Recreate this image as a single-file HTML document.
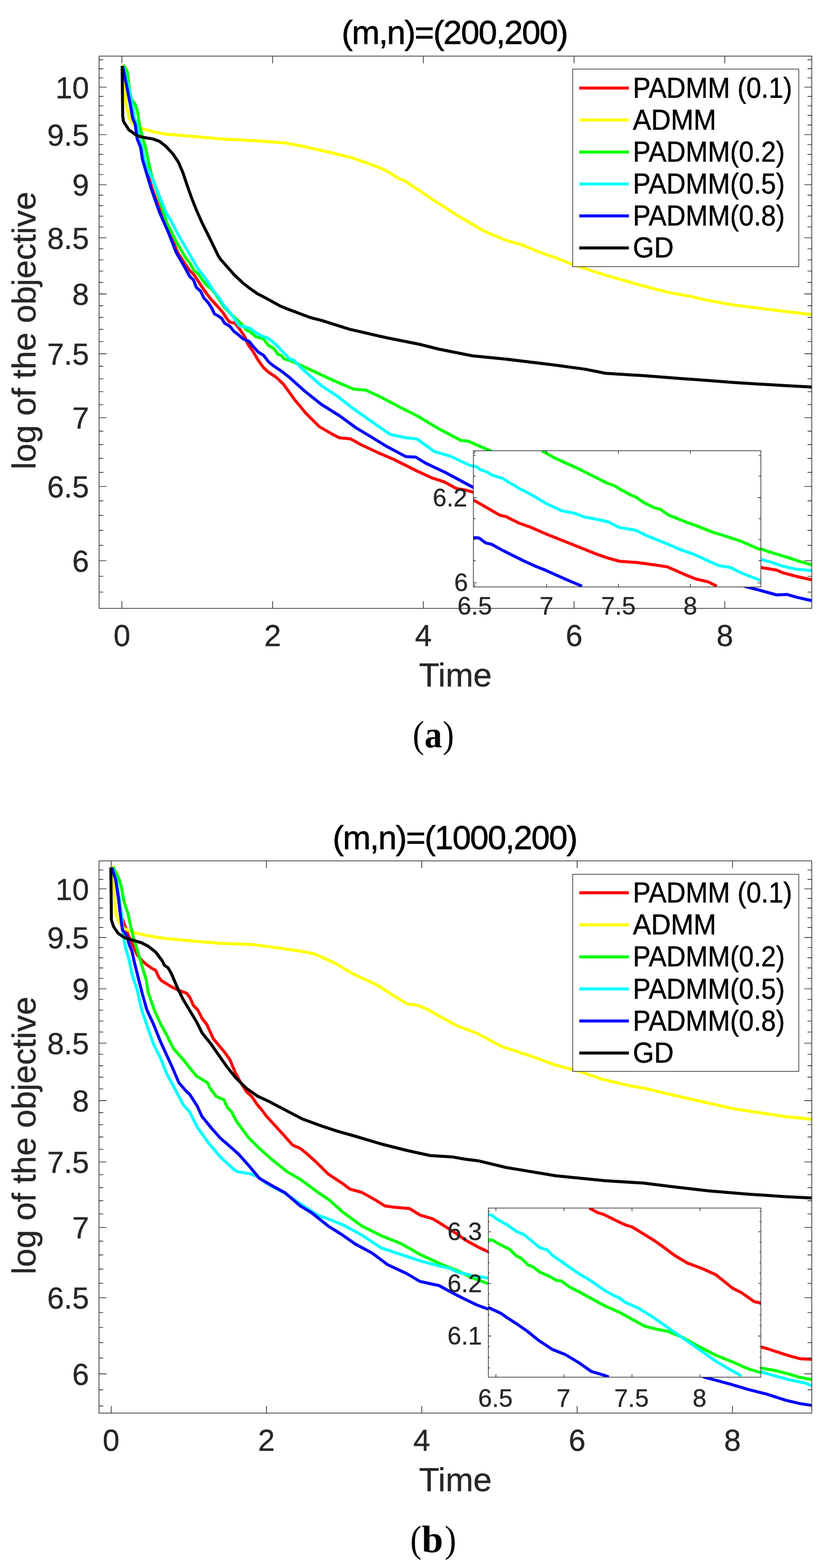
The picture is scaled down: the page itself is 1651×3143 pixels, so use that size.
<!DOCTYPE html><html><head><meta charset="utf-8"><title>Figure</title><style>html,body{margin:0;padding:0;background:#fff}svg{display:block}</style></head><body>
<svg width="1651" height="3143" viewBox="0 0 1651 3143">
<rect width="1651" height="3143" fill="#fff"/>
<clipPath id="ca"><rect x="198.5" y="112.5" width="1428.0" height="1107.0"/></clipPath>
<g clip-path="url(#ca)" fill="none" stroke-width="6.0" stroke-linejoin="round" stroke-linecap="butt">
<path d="M245.8 132.8 L255.0 178.7 L261.7 212.0 L266.0 237.0 L271.0 249.0 L275.5 278.7 L282.0 295.3 L288.0 320.0 L304.0 375.4 L322.0 426.4 L340.0 466.3 L356.0 506.3 L370.0 528.0 L380.0 542.2 L388.9 551.0 L397.7 564.3 L409.3 582.1 L422.6 599.8 L435.0 613.1 L446.5 626.4 L455.4 640.0 L460.7 645.9 L471.0 647.9 L481.4 661.4 L489.7 673.8 L496.9 690.4 L507.3 704.9 L517.6 722.4 L528.0 736.9 L538.3 746.2 L553.8 756.6 L568.5 770.7 L590.7 801.7 L612.9 828.3 L639.5 855.0 L666.1 870.5 L680.0 877.5 L702.2 879.7 L724.3 891.9 L757.6 907.4 L790.9 921.8 L835.2 944.0 L864.0 957.3 L890.6 966.2 L915.0 979.5 L935.0 982.8 L950.0 987.0 L1300.0 1100.0 L1524.7 1137.5 L1556.1 1142.8 L1568.5 1148.1 L1595.1 1155.2 L1626.5 1162.3" stroke="#ff0000"/>
<path d="M246.7 129.5 L249.2 175.3 L253.3 212.0 L259.2 238.7 L268.3 250.3 L281.7 257.0 L305.0 263.7 L330.0 268.7 L380.0 272.8 L440.0 278.3 L506.7 281.7 L573.3 286.7 L606.7 293.3 L673.3 308.3 L706.7 316.7 L753.3 333.3 L773.3 341.7 L800.0 358.3 L810.0 361.7 L840.0 381.7 L866.7 400.0 L880.0 408.3 L913.3 430.0 L970.0 463.3 L1013.3 481.7 L1043.3 490.0 L1080.0 505.0 L1113.3 516.7 L1146.7 530.0 L1213.3 551.7 L1285.0 572.2 L1341.7 586.9 L1380.5 593.4 L1419.3 602.4 L1471.1 611.5 L1522.8 618.0 L1574.5 624.4 L1626.3 630.4" stroke="#ffff00"/>
<path d="M247.5 130.3 L255.0 143.7 L259.2 178.7 L263.3 198.7 L270.8 208.7 L275.8 225.3 L280.0 253.7 L285.0 273.7 L291.7 295.3 L298.3 328.7 L304.3 353.3 L317.6 393.2 L333.2 444.2 L353.1 484.1 L370.9 515.1 L381.3 528.9 L388.9 542.2 L397.7 549.3 L406.6 562.6 L413.7 571.4 L421.7 577.6 L431.4 589.2 L438.5 599.8 L449.2 615.8 L453.5 620.0 L461.0 628.0 L469.0 635.5 L483.5 649.0 L493.8 661.4 L502.1 665.5 L512.4 674.8 L528.0 679.0 L533.1 686.2 L538.3 692.4 L548.7 698.6 L556.9 710.0 L564.2 713.1 L569.3 719.3 L580.0 722.4 L595.1 728.6 L632.8 746.3 L666.1 761.8 L680.0 767.7 L708.8 779.9 L733.2 782.1 L762.0 795.4 L799.7 815.4 L835.2 833.1 L879.6 859.7 L923.9 883.0 L937.2 884.1 L984.0 904.3 L1200.0 1000.0 L1524.7 1100.2 L1541.9 1106.4 L1577.4 1117.1 L1604.0 1125.9 L1626.5 1132.2" stroke="#00ff00"/>
<path d="M247.0 132.0 L252.0 155.0 L258.5 178.7 L265.2 212.0 L269.3 237.0 L274.3 248.7 L278.5 278.7 L285.2 295.3 L289.0 320.0 L295.0 338.0 L303.0 353.0 L316.0 385.0 L325.5 408.0 L333.1 426.9 L346.4 449.5 L355.7 468.2 L375.3 501.8 L396.0 537.7 L406.6 551.0 L417.3 566.1 L427.0 582.1 L437.6 595.4 L449.2 613.1 L455.5 620.0 L463.8 630.3 L471.0 640.7 L479.3 653.1 L491.7 655.2 L502.1 658.3 L512.4 666.6 L524.9 673.8 L535.2 676.9 L546.6 685.2 L556.9 694.5 L564.2 702.8 L574.5 713.1 L580.0 719.3 L588.5 721.9 L610.6 744.1 L643.9 772.9 L677.2 795.1 L708.8 819.8 L746.5 846.4 L782.0 870.8 L813.0 877.5 L835.2 879.7 L870.7 905.2 L901.7 914.1 L941.6 932.9 L950.0 935.0 L1300.0 1060.0 L1524.7 1121.5 L1541.9 1125.9 L1568.5 1134.8 L1595.1 1141.0 L1626.5 1143.7" stroke="#00ffff"/>
<path d="M245.8 132.8 L255.0 178.7 L261.7 212.0 L265.8 237.0 L270.8 248.7 L275.0 278.7 L281.7 295.3 L285.5 320.0 L302.1 375.4 L319.9 426.4 L337.6 466.3 L353.1 506.3 L368.6 532.9 L380.0 553.7 L388.0 561.7 L393.3 575.9 L402.2 583.9 L408.4 597.2 L417.3 606.9 L424.3 617.6 L429.7 629.1 L437.6 633.5 L443.9 638.0 L450.3 647.9 L460.7 654.1 L469.0 664.5 L476.2 669.7 L486.6 679.0 L499.0 684.2 L507.3 694.5 L517.6 705.9 L528.0 712.1 L538.3 725.5 L548.7 733.8 L564.2 744.2 L580.0 756.6 L610.6 784.0 L643.9 810.6 L680.0 833.1 L713.3 857.5 L746.5 877.5 L775.3 895.2 L813.0 915.2 L833.0 916.3 L853.0 928.5 L890.6 946.2 L923.9 964.0 L950.0 978.0 L1300.0 1108.0 L1499.3 1177.4 L1520.6 1182.7 L1556.1 1192.5 L1577.4 1191.6 L1595.1 1196.9 L1626.5 1204.0" stroke="#0000ff"/>
<path d="M244.7 132.0 L245.8 232.0 L247.5 243.7 L258.3 260.3 L270.0 268.7 L273.3 271.3 L286.6 275.3 L306.5 278.6 L319.8 283.3 L333.1 293.9 L346.4 308.5 L357.1 324.5 L366.4 345.8 L374.4 369.7 L383.7 396.3 L394.3 422.9 L405.0 446.9 L415.6 468.2 L437.4 512.9 L442.1 520.0 L455.4 535.1 L468.7 550.2 L486.4 567.0 L500.0 577.6 L515.0 588.3 L533.0 597.7 L560.0 612.7 L577.4 619.9 L621.7 636.5 L643.9 642.1 L700.0 659.8 L773.3 676.7 L840.0 690.0 L880.0 700.0 L946.7 713.3 L1015.0 720.0 L1095.2 729.7 L1113.3 732.0 L1172.8 740.1 L1213.3 748.3 L1290.0 753.0 L1367.6 758.9 L1419.3 762.8 L1471.1 766.7 L1522.8 770.0 L1574.5 773.1 L1626.3 775.7" stroke="#000000"/>
</g>
<g stroke="#262626" stroke-width="1.4" fill="none">
<rect x="198.5" y="112.5" width="1428.0" height="1107.0"/>
<path d="M198.5 1186.9H207.0M1626.5 1186.9H1618.0M198.5 1155.1H207.0M1626.5 1155.1H1618.0M198.5 1123.9H213.5M1626.5 1123.9H1611.5M198.5 1093.2H207.0M1626.5 1093.2H1618.0M198.5 1063.0H207.0M1626.5 1063.0H1618.0M198.5 1033.2H207.0M1626.5 1033.2H1618.0M198.5 1004.0H207.0M1626.5 1004.0H1618.0M198.5 975.1H213.5M1626.5 975.1H1611.5M198.5 946.8H207.0M1626.5 946.8H1618.0M198.5 918.8H207.0M1626.5 918.8H1618.0M198.5 891.3H207.0M1626.5 891.3H1618.0M198.5 864.2H207.0M1626.5 864.2H1618.0M198.5 837.4H213.5M1626.5 837.4H1611.5M198.5 811.1H207.0M1626.5 811.1H1618.0M198.5 785.1H207.0M1626.5 785.1H1618.0M198.5 759.4H207.0M1626.5 759.4H1618.0M198.5 734.2H207.0M1626.5 734.2H1618.0M198.5 709.2H213.5M1626.5 709.2H1611.5M198.5 684.6H207.0M1626.5 684.6H1618.0M198.5 660.3H207.0M1626.5 660.3H1618.0M198.5 636.3H207.0M1626.5 636.3H1618.0M198.5 612.7H207.0M1626.5 612.7H1618.0M198.5 589.3H213.5M1626.5 589.3H1611.5M198.5 566.2H207.0M1626.5 566.2H1618.0M198.5 543.4H207.0M1626.5 543.4H1618.0M198.5 520.9H207.0M1626.5 520.9H1618.0M198.5 498.6H207.0M1626.5 498.6H1618.0M198.5 476.6H213.5M1626.5 476.6H1611.5M198.5 454.9H207.0M1626.5 454.9H1618.0M198.5 433.4H207.0M1626.5 433.4H1618.0M198.5 412.2H207.0M1626.5 412.2H1618.0M198.5 391.2H207.0M1626.5 391.2H1618.0M198.5 370.4H213.5M1626.5 370.4H1611.5M198.5 349.9H207.0M1626.5 349.9H1618.0M198.5 329.6H207.0M1626.5 329.6H1618.0M198.5 309.5H207.0M1626.5 309.5H1618.0M198.5 289.6H207.0M1626.5 289.6H1618.0M198.5 269.9H213.5M1626.5 269.9H1611.5M198.5 250.5H207.0M1626.5 250.5H1618.0M198.5 231.2H207.0M1626.5 231.2H1618.0M198.5 212.1H207.0M1626.5 212.1H1618.0M198.5 193.3H207.0M1626.5 193.3H1618.0M198.5 174.6H213.5M1626.5 174.6H1611.5M198.5 156.1H207.0M1626.5 156.1H1618.0M198.5 137.8H207.0M1626.5 137.8H1618.0M198.5 119.7H207.0M1626.5 119.7H1618.0M244.3 1219.5V1205.2M244.3 112.5V126.8M546.3 1219.5V1205.2M546.3 112.5V126.8M848.3 1219.5V1205.2M848.3 112.5V126.8M1150.3 1219.5V1205.2M1150.3 112.5V126.8M1452.3 1219.5V1205.2M1452.3 112.5V126.8"/>
</g>
<g fill="#262626" stroke="#262626" stroke-width="0.45" font-family="'Liberation Sans', Arial, Helvetica, sans-serif" font-size="60.5">
<text x="178.5" y="1145.8" text-anchor="end">6</text>
<text x="178.5" y="997.0" text-anchor="end">6.5</text>
<text x="178.5" y="859.3" text-anchor="end">7</text>
<text x="178.5" y="731.1" text-anchor="end">7.5</text>
<text x="178.5" y="611.2" text-anchor="end">8</text>
<text x="178.5" y="498.5" text-anchor="end">8.5</text>
<text x="178.5" y="392.3" text-anchor="end">9</text>
<text x="178.5" y="291.8" text-anchor="end">9.5</text>
<text x="178.5" y="196.5" text-anchor="end">10</text>
<text x="244.3" y="1294.5" text-anchor="middle">0</text>
<text x="546.3" y="1294.5" text-anchor="middle">2</text>
<text x="848.3" y="1294.5" text-anchor="middle">4</text>
<text x="1150.3" y="1294.5" text-anchor="middle">6</text>
<text x="1452.3" y="1294.5" text-anchor="middle">8</text>
</g>
<g fill="#262626" stroke="#262626" stroke-width="0.5" font-family="'Liberation Sans', Arial, Helvetica, sans-serif" font-size="66.8">
<text x="912.5" y="1375.7" text-anchor="middle">Time</text>
<text transform="translate(71 662.6) rotate(-90)" text-anchor="middle">log of the objective</text>
</g>
<text x="911.6" y="88.2" font-family="'Liberation Sans', Arial, Helvetica, sans-serif" font-size="67" fill="#000" stroke="#000" stroke-width="0.8" text-anchor="middle" textLength="454.0">(m,n)=(200,200)</text>
<rect x="1147.5" y="138.5" width="453.0" height="396.0" fill="#fff" stroke="#262626" stroke-width="1.3"/>
<path d="M1160.6 176.5H1260" stroke="#ff0000" stroke-width="6.0"/>
<text transform="translate(1268 195.9) scale(0.989 1.065)" font-family="'Liberation Sans', Arial, Helvetica, sans-serif" font-size="54.0" fill="#000" stroke="#000" stroke-width="0.6">PADMM (0.1)</text>
<path d="M1160.6 240.6H1260" stroke="#ffff00" stroke-width="6.0"/>
<text transform="translate(1268 260.0) scale(1.014 1.065)" font-family="'Liberation Sans', Arial, Helvetica, sans-serif" font-size="54.0" fill="#000" stroke="#000" stroke-width="0.6">ADMM</text>
<path d="M1160.6 304.7H1260" stroke="#00ff00" stroke-width="6.0"/>
<text transform="translate(1268 324.1) scale(0.989 1.065)" font-family="'Liberation Sans', Arial, Helvetica, sans-serif" font-size="54.0" fill="#000" stroke="#000" stroke-width="0.6">PADMM(0.2)</text>
<path d="M1160.6 368.7H1260" stroke="#00ffff" stroke-width="6.0"/>
<text transform="translate(1268 388.1) scale(0.989 1.065)" font-family="'Liberation Sans', Arial, Helvetica, sans-serif" font-size="54.0" fill="#000" stroke="#000" stroke-width="0.6">PADMM(0.5)</text>
<path d="M1160.6 432.8H1260" stroke="#0000ff" stroke-width="6.0"/>
<text transform="translate(1268 452.2) scale(0.989 1.065)" font-family="'Liberation Sans', Arial, Helvetica, sans-serif" font-size="54.0" fill="#000" stroke="#000" stroke-width="0.6">PADMM(0.8)</text>
<path d="M1160.6 496.9H1260" stroke="#000000" stroke-width="6.0"/>
<text transform="translate(1268 516.3) scale(1.010 1.065)" font-family="'Liberation Sans', Arial, Helvetica, sans-serif" font-size="54.0" fill="#000" stroke="#000" stroke-width="0.6">GD</text>
<rect x="948.5" y="903.5" width="576.0" height="273.0" fill="#fff"/>
<clipPath id="cia"><rect x="948.5" y="903.5" width="576.0" height="273.0"/></clipPath>
<g clip-path="url(#cia)" fill="none" stroke-width="6.0" stroke-linejoin="round">
<path d="M948.4 1002.0 L973.3 1016.4 L1002.1 1033.0 L1013.2 1035.2 L1039.8 1048.5 L1062.0 1056.3 L1095.2 1070.7 L1128.5 1084.0 L1161.7 1097.3 L1195.0 1110.6 L1217.2 1118.4 L1241.1 1125.0 L1274.3 1127.3 L1307.6 1131.7 L1336.4 1136.1 L1352.0 1142.8 L1371.9 1151.6 L1394.1 1160.5 L1418.5 1166.1 L1436.2 1174.9" stroke="#ff0000"/>
<path d="M1085.2 903.7 L1095.2 908.8 L1113.0 918.8 L1135.1 928.8 L1157.3 938.8 L1175.0 947.6 L1195.0 957.6 L1217.2 968.7 L1230.0 973.0 L1241.1 979.8 L1263.3 992.0 L1274.3 996.4 L1289.9 1007.5 L1312.0 1018.2 L1323.1 1020.8 L1338.6 1031.9 L1374.1 1046.3 L1396.3 1054.1 L1429.6 1067.4 L1451.7 1074.0 L1485.0 1085.1 L1524.0 1102.0" stroke="#00ff00"/>
<path d="M948.4 933.6 L954.8 935.5 L962.2 941.4 L971.0 944.3 L978.4 947.3 L984.3 951.7 L997.6 956.2 L1008.0 959.1 L1017.6 965.8 L1028.7 971.7 L1040.0 979.1 L1050.9 984.2 L1073.0 996.4 L1095.2 1009.7 L1126.3 1024.1 L1150.6 1028.6 L1170.6 1036.3 L1195.0 1040.8 L1219.4 1046.3 L1241.1 1057.4 L1274.3 1063.0 L1296.5 1074.0 L1318.7 1082.9 L1340.9 1091.8 L1363.0 1101.7 L1391.9 1111.7 L1418.5 1123.9 L1440.6 1133.9 L1462.8 1137.2 L1485.0 1148.3 L1524.0 1163.5" stroke="#00ffff"/>
<path d="M948.4 1077.4 L960.0 1078.5 L973.3 1088.4 L984.3 1090.7 L1006.5 1102.9 L1028.7 1114.0 L1050.9 1125.0 L1073.0 1135.0 L1095.2 1143.9 L1117.4 1153.9 L1139.6 1163.8 L1166.2 1174.9" stroke="#0000ff"/>
</g>
<g stroke="#262626" stroke-width="1.3" fill="none"><rect x="948.5" y="903.5" width="576.0" height="273.0"/><path d="M948.5 913.2H952.9M1524.5 913.2H1520.1M948.5 954.5H952.9M1524.5 954.5H1520.1M948.5 997.5H955.1M1524.5 997.5H1517.9M948.5 1039.5H952.9M1524.5 1039.5H1520.1M948.5 1081.5H952.9M1524.5 1081.5H1520.1M948.5 1124.0H952.9M1524.5 1124.0H1520.1M948.5 1168.3H955.1M1524.5 1168.3H1517.9M951.2 1176.5V1170.5M951.2 903.5V909.5M1095.2 1176.5V1170.5M1095.2 903.5V909.5M1239.2 1176.5V1170.5M1239.2 903.5V909.5M1383.2 1176.5V1170.5M1383.2 903.5V909.5"/></g>
<g fill="#262626" stroke="#262626" stroke-width="0.4" font-family="'Liberation Sans', Arial, Helvetica, sans-serif" font-size="49.8">
<text x="936.2" y="1015.2" text-anchor="end">6.2</text>
<text x="937.8" y="1184.6" text-anchor="end">6</text>
<text x="951.2" y="1231.6" text-anchor="middle">6.5</text>
<text x="1095.2" y="1231.6" text-anchor="middle">7</text>
<text x="1239.2" y="1231.6" text-anchor="middle">7.5</text>
<text x="1383.2" y="1231.6" text-anchor="middle">8</text>
</g>
<clipPath id="cb"><rect x="198.4" y="1725.6" width="1428.1" height="1106.9"/></clipPath>
<g clip-path="url(#cb)" fill="none" stroke-width="6.0" stroke-linejoin="round" stroke-linecap="butt">
<path d="M224.3 1738.8 L232.0 1764.3 L237.6 1802.0 L240.9 1830.8 L247.6 1848.5 L256.4 1872.9 L265.3 1892.9 L274.2 1912.8 L283.0 1923.9 L294.1 1933.9 L305.2 1941.6 L311.9 1945.0 L318.5 1959.4 L323.2 1965.5 L343.1 1977.7 L356.4 1984.4 L374.2 1991.0 L380.8 1999.9 L387.5 2015.4 L396.3 2024.3 L405.2 2042.0 L414.1 2053.1 L427.4 2082.0 L438.5 2095.3 L449.6 2108.6 L460.6 2124.1 L471.7 2150.7 L482.8 2170.6 L493.9 2188.4 L504.2 2197.7 L516.1 2215.0 L524.1 2224.3 L533.8 2237.2 L546.3 2251.0 L568.5 2275.3 L586.2 2295.3 L601.7 2302.0 L612.8 2310.8 L635.0 2330.8 L657.2 2352.9 L685.9 2371.9 L701.4 2383.6 L724.7 2390.0 L750.5 2404.3 L771.2 2417.2 L789.3 2419.8 L820.4 2422.4 L841.1 2435.3 L866.9 2443.0 L880.0 2450.9 L912.6 2471.5 L934.3 2486.7 L956.1 2498.7 L980.0 2510.0 L1300.0 2620.0 L1524.5 2699.8 L1537.8 2703.5 L1565.5 2712.7 L1584.0 2718.3 L1602.5 2723.4 L1626.5 2724.7" stroke="#ff0000"/>
<path d="M226.5 1735.4 L228.7 1790.9 L232.0 1830.8 L238.7 1850.7 L249.8 1861.8 L269.7 1869.6 L294.1 1875.1 L327.4 1880.7 L371.7 1885.1 L440.0 1890.7 L506.7 1893.3 L556.7 1900.0 L606.7 1907.3 L633.3 1913.3 L673.3 1931.7 L706.7 1951.7 L756.7 1975.0 L790.0 1996.7 L816.7 2012.7 L836.7 2015.0 L856.7 2023.3 L880.0 2036.7 L913.3 2055.0 L956.7 2071.7 L1006.7 2098.3 L1063.3 2116.7 L1113.3 2135.0 L1163.3 2148.3 L1206.7 2163.3 L1263.3 2176.7 L1290.0 2181.0 L1328.8 2190.4 L1367.6 2199.5 L1419.3 2211.1 L1471.1 2222.8 L1522.8 2230.5 L1574.5 2238.3 L1626.3 2243.5" stroke="#ffff00"/>
<path d="M226.5 1737.6 L238.7 1762.0 L243.1 1777.6 L248.7 1808.6 L256.4 1830.8 L260.9 1852.9 L267.5 1879.6 L274.2 1901.7 L280.8 1923.9 L287.5 1946.1 L293.0 1963.8 L296.6 1988.8 L309.9 2026.5 L323.2 2055.3 L334.3 2075.3 L347.6 2101.9 L365.3 2121.9 L383.0 2144.0 L394.1 2157.3 L416.3 2170.6 L420.0 2180.0 L433.2 2197.7 L448.7 2204.4 L455.4 2219.9 L464.3 2228.8 L473.1 2246.5 L497.5 2279.8 L517.5 2299.7 L541.9 2321.9 L575.1 2348.5 L601.7 2364.0 L635.0 2388.4 L660.0 2405.5 L685.9 2428.8 L724.7 2457.3 L763.5 2476.7 L802.3 2492.2 L841.1 2514.2 L879.9 2532.3 L918.7 2547.8 L944.5 2560.7 L980.0 2573.7 L1300.0 2680.0 L1524.5 2742.3 L1556.3 2747.8 L1584.0 2755.2 L1602.5 2760.8 L1626.5 2765.4" stroke="#00ff00"/>
<path d="M225.0 1738.0 L233.0 1764.0 L239.0 1800.0 L243.0 1830.0 L246.0 1860.0 L247.6 1879.6 L252.0 1901.7 L258.6 1923.9 L263.1 1946.1 L266.6 1960.0 L274.4 1982.2 L283.3 2022.1 L294.3 2055.3 L307.6 2093.0 L321.0 2119.6 L334.3 2152.9 L347.6 2177.3 L367.5 2215.0 L380.0 2228.8 L395.5 2259.8 L417.7 2290.9 L442.1 2319.7 L468.7 2344.1 L475.3 2348.5 L502.0 2352.9 L517.5 2359.6 L535.2 2372.9 L568.5 2390.6 L601.7 2412.8 L635.0 2435.0 L660.0 2444.3 L685.9 2454.7 L724.7 2475.4 L763.5 2501.3 L802.3 2514.2 L841.1 2527.1 L879.9 2537.5 L900.0 2541.9 L918.7 2550.4 L938.8 2554.9 L944.5 2556.9 L980.0 2562.0 L1300.0 2690.0 L1524.5 2749.7 L1556.3 2758.9 L1584.0 2766.3 L1611.7 2771.8 L1626.5 2777.4" stroke="#00ffff"/>
<path d="M224.3 1738.8 L232.0 1764.3 L237.6 1802.0 L240.9 1830.8 L245.3 1864.0 L254.2 1875.1 L258.6 1892.9 L264.2 1906.2 L269.7 1930.6 L276.4 1957.2 L285.5 1993.3 L294.3 2024.3 L307.6 2053.1 L321.0 2086.4 L332.0 2110.8 L345.3 2139.6 L358.6 2170.6 L374.2 2188.4 L380.0 2193.3 L395.5 2217.7 L404.4 2237.6 L424.3 2262.0 L442.1 2282.0 L457.6 2295.3 L477.6 2313.0 L497.5 2335.2 L519.7 2361.8 L546.3 2377.3 L570.7 2390.6 L601.7 2417.3 L623.9 2430.6 L657.2 2457.2 L685.9 2475.4 L711.7 2493.5 L745.4 2511.6 L776.4 2534.9 L815.2 2553.0 L841.1 2568.5 L880.0 2577.0 L901.7 2588.9 L928.9 2603.0 L956.1 2616.0 L980.0 2624.7 L1300.0 2720.0 L1412.2 2760.8 L1436.2 2767.2 L1463.9 2774.6 L1500.9 2785.7 L1537.8 2794.9 L1574.8 2806.9 L1602.5 2813.4 L1626.5 2817.1" stroke="#0000ff"/>
<path d="M222.1 1738.8 L223.2 1844.1 L227.6 1857.4 L236.5 1870.7 L249.8 1879.6 L267.5 1885.1 L283.0 1889.5 L296.3 1896.2 L311.9 1908.4 L325.2 1926.1 L329.6 1935.0 L336.3 1939.4 L342.9 1950.5 L349.6 1966.0 L356.4 1982.2 L367.5 2004.3 L380.8 2026.5 L394.1 2048.7 L405.2 2070.9 L423.0 2093.0 L438.5 2115.2 L454.0 2137.4 L471.7 2159.6 L493.9 2181.7 L516.1 2197.3 L540.0 2208.3 L557.4 2217.7 L606.7 2243.3 L646.1 2257.6 L673.3 2266.7 L711.7 2277.5 L763.5 2293.0 L815.2 2306.0 L861.8 2316.3 L905.7 2318.9 L930.0 2323.3 L957.5 2326.7 L1013.3 2340.0 L1113.3 2356.7 L1213.3 2366.7 L1290.0 2371.5 L1341.7 2378.0 L1419.3 2387.0 L1496.9 2393.5 L1574.5 2398.7 L1626.3 2401.3" stroke="#000000"/>
</g>
<g stroke="#262626" stroke-width="1.4" fill="none">
<rect x="198.4" y="1725.6" width="1428.1" height="1106.9"/>
<path d="M198.4 2818.3H206.9M1626.5 2818.3H1618.0M198.4 2785.7H206.9M1626.5 2785.7H1618.0M198.4 2753.7H213.4M1626.5 2753.7H1611.5M198.4 2722.3H206.9M1626.5 2722.3H1618.0M198.4 2691.3H206.9M1626.5 2691.3H1618.0M198.4 2660.9H206.9M1626.5 2660.9H1618.0M198.4 2630.9H206.9M1626.5 2630.9H1618.0M198.4 2601.4H213.4M1626.5 2601.4H1611.5M198.4 2572.4H206.9M1626.5 2572.4H1618.0M198.4 2543.7H206.9M1626.5 2543.7H1618.0M198.4 2515.5H206.9M1626.5 2515.5H1618.0M198.4 2487.8H206.9M1626.5 2487.8H1618.0M198.4 2460.4H213.4M1626.5 2460.4H1611.5M198.4 2433.4H206.9M1626.5 2433.4H1618.0M198.4 2406.8H206.9M1626.5 2406.8H1618.0M198.4 2380.5H206.9M1626.5 2380.5H1618.0M198.4 2354.6H206.9M1626.5 2354.6H1618.0M198.4 2329.1H213.4M1626.5 2329.1H1611.5M198.4 2303.9H206.9M1626.5 2303.9H1618.0M198.4 2279.0H206.9M1626.5 2279.0H1618.0M198.4 2254.4H206.9M1626.5 2254.4H1618.0M198.4 2230.2H206.9M1626.5 2230.2H1618.0M198.4 2206.3H213.4M1626.5 2206.3H1611.5M198.4 2182.6H206.9M1626.5 2182.6H1618.0M198.4 2159.3H206.9M1626.5 2159.3H1618.0M198.4 2136.2H206.9M1626.5 2136.2H1618.0M198.4 2113.4H206.9M1626.5 2113.4H1618.0M198.4 2090.9H213.4M1626.5 2090.9H1611.5M198.4 2068.6H206.9M1626.5 2068.6H1618.0M198.4 2046.6H206.9M1626.5 2046.6H1618.0M198.4 2024.9H206.9M1626.5 2024.9H1618.0M198.4 2003.4H206.9M1626.5 2003.4H1618.0M198.4 1982.1H213.4M1626.5 1982.1H1611.5M198.4 1961.1H206.9M1626.5 1961.1H1618.0M198.4 1940.3H206.9M1626.5 1940.3H1618.0M198.4 1919.7H206.9M1626.5 1919.7H1618.0M198.4 1899.4H206.9M1626.5 1899.4H1618.0M198.4 1879.2H213.4M1626.5 1879.2H1611.5M198.4 1859.3H206.9M1626.5 1859.3H1618.0M198.4 1839.6H206.9M1626.5 1839.6H1618.0M198.4 1820.0H206.9M1626.5 1820.0H1618.0M198.4 1800.7H206.9M1626.5 1800.7H1618.0M198.4 1781.6H213.4M1626.5 1781.6H1611.5M198.4 1762.7H206.9M1626.5 1762.7H1618.0M198.4 1743.9H206.9M1626.5 1743.9H1618.0M222.7 2832.5V2818.2M222.7 1725.6V1739.9M533.9 2832.5V2818.2M533.9 1725.6V1739.9M845.1 2832.5V2818.2M845.1 1725.6V1739.9M1156.4 2832.5V2818.2M1156.4 1725.6V1739.9M1467.6 2832.5V2818.2M1467.6 1725.6V1739.9"/>
</g>
<g fill="#262626" stroke="#262626" stroke-width="0.45" font-family="'Liberation Sans', Arial, Helvetica, sans-serif" font-size="60.5">
<text x="178.5" y="2775.6" text-anchor="end">6</text>
<text x="178.5" y="2623.3" text-anchor="end">6.5</text>
<text x="178.5" y="2482.3" text-anchor="end">7</text>
<text x="178.5" y="2351.0" text-anchor="end">7.5</text>
<text x="178.5" y="2228.2" text-anchor="end">8</text>
<text x="178.5" y="2112.8" text-anchor="end">8.5</text>
<text x="178.5" y="2004.0" text-anchor="end">9</text>
<text x="178.5" y="1901.1" text-anchor="end">9.5</text>
<text x="178.5" y="1803.5" text-anchor="end">10</text>
<text x="222.7" y="2907.5" text-anchor="middle">0</text>
<text x="533.9" y="2907.5" text-anchor="middle">2</text>
<text x="845.1" y="2907.5" text-anchor="middle">4</text>
<text x="1156.4" y="2907.5" text-anchor="middle">6</text>
<text x="1467.6" y="2907.5" text-anchor="middle">8</text>
</g>
<g fill="#262626" stroke="#262626" stroke-width="0.5" font-family="'Liberation Sans', Arial, Helvetica, sans-serif" font-size="66.8">
<text x="912.5" y="2988.7" text-anchor="middle">Time</text>
<text transform="translate(71 2276.0) rotate(-90)" text-anchor="middle">log of the objective</text>
</g>
<text x="912.1" y="1702.0" font-family="'Liberation Sans', Arial, Helvetica, sans-serif" font-size="67" fill="#000" stroke="#000" stroke-width="0.8" text-anchor="middle" textLength="491.0">(m,n)=(1000,200)</text>
<rect x="1147.5" y="1752.5" width="453.0" height="395.0" fill="#fff" stroke="#262626" stroke-width="1.3"/>
<path d="M1160.6 1789.6H1260" stroke="#ff0000" stroke-width="6.0"/>
<text transform="translate(1268 1809.0) scale(0.989 1.065)" font-family="'Liberation Sans', Arial, Helvetica, sans-serif" font-size="54.0" fill="#000" stroke="#000" stroke-width="0.6">PADMM (0.1)</text>
<path d="M1160.6 1853.8H1260" stroke="#ffff00" stroke-width="6.0"/>
<text transform="translate(1268 1873.2) scale(1.014 1.065)" font-family="'Liberation Sans', Arial, Helvetica, sans-serif" font-size="54.0" fill="#000" stroke="#000" stroke-width="0.6">ADMM</text>
<path d="M1160.6 1918.0H1260" stroke="#00ff00" stroke-width="6.0"/>
<text transform="translate(1268 1937.4) scale(0.989 1.065)" font-family="'Liberation Sans', Arial, Helvetica, sans-serif" font-size="54.0" fill="#000" stroke="#000" stroke-width="0.6">PADMM(0.2)</text>
<path d="M1160.6 1982.3H1260" stroke="#00ffff" stroke-width="6.0"/>
<text transform="translate(1268 2001.7) scale(0.989 1.065)" font-family="'Liberation Sans', Arial, Helvetica, sans-serif" font-size="54.0" fill="#000" stroke="#000" stroke-width="0.6">PADMM(0.5)</text>
<path d="M1160.6 2046.5H1260" stroke="#0000ff" stroke-width="6.0"/>
<text transform="translate(1268 2065.9) scale(0.989 1.065)" font-family="'Liberation Sans', Arial, Helvetica, sans-serif" font-size="54.0" fill="#000" stroke="#000" stroke-width="0.6">PADMM(0.8)</text>
<path d="M1160.6 2110.7H1260" stroke="#000000" stroke-width="6.0"/>
<text transform="translate(1268 2130.1) scale(1.010 1.065)" font-family="'Liberation Sans', Arial, Helvetica, sans-serif" font-size="54.0" fill="#000" stroke="#000" stroke-width="0.6">GD</text>
<rect x="978.5" y="2421.5" width="546.0" height="339.0" fill="#fff"/>
<clipPath id="cib"><rect x="978.5" y="2421.5" width="546.0" height="339.0"/></clipPath>
<g clip-path="url(#cib)" fill="none" stroke-width="6.0" stroke-linejoin="round">
<path d="M1180.7 2421.6 L1197.5 2430.7 L1210.4 2434.6 L1236.3 2447.5 L1252.9 2455.3 L1265.9 2459.1 L1291.7 2474.7 L1312.4 2487.6 L1330.5 2500.5 L1351.2 2516.1 L1377.1 2531.6 L1408.1 2543.2 L1434.0 2554.9 L1467.6 2582.0 L1485.7 2591.1 L1511.6 2609.2 L1524.5 2611.8" stroke="#ff0000"/>
<path d="M978.4 2485.0 L987.9 2486.3 L998.3 2492.8 L1021.6 2504.4 L1034.5 2517.3 L1044.9 2522.5 L1057.8 2535.5 L1068.1 2539.3 L1081.1 2549.7 L1101.8 2558.7 L1114.7 2566.5 L1125.0 2567.8 L1140.6 2579.4 L1158.7 2588.5 L1184.5 2602.7 L1210.4 2616.9 L1240.0 2629.9 L1265.9 2644.1 L1291.7 2658.3 L1317.6 2664.8 L1338.3 2668.7 L1369.3 2681.6 L1400.4 2699.0 L1434.0 2716.5 L1472.8 2732.0 L1498.7 2743.7 L1524.5 2751.4" stroke="#00ff00"/>
<path d="M978.4 2434.6 L985.4 2435.9 L995.7 2443.6 L1016.4 2455.3 L1034.5 2468.2 L1050.0 2474.7 L1081.1 2500.5 L1096.6 2505.7 L1106.9 2516.1 L1132.8 2534.2 L1158.7 2552.3 L1184.5 2567.8 L1210.4 2585.9 L1231.1 2597.5 L1240.0 2601.0 L1252.9 2610.5 L1278.8 2622.1 L1304.7 2637.6 L1330.5 2655.7 L1356.4 2673.8 L1382.3 2691.9 L1408.1 2710.0 L1434.0 2728.2 L1459.9 2743.7 L1485.7 2757.9" stroke="#00ffff"/>
<path d="M978.4 2620.8 L1003.5 2632.5 L1016.4 2641.5 L1034.5 2653.1 L1055.2 2667.4 L1081.1 2688.1 L1106.9 2704.9 L1132.8 2715.2 L1158.7 2730.7 L1184.5 2748.8 L1210.4 2756.6 L1220.0 2760.0" stroke="#0000ff"/>
</g>
<g stroke="#262626" stroke-width="1.3" fill="none"><rect x="978.5" y="2421.5" width="546.0" height="339.0"/><path d="M978.5 2742.0H981.3M1524.5 2742.0H1521.7M978.5 2720.6H981.3M1524.5 2720.6H1521.7M978.5 2699.3H981.3M1524.5 2699.3H1521.7M978.5 2678.0H983.9M1524.5 2678.0H1519.1M978.5 2656.8H981.3M1524.5 2656.8H1521.7M978.5 2635.7H981.3M1524.5 2635.7H1521.7M978.5 2614.7H981.3M1524.5 2614.7H1521.7M978.5 2593.7H981.3M1524.5 2593.7H1521.7M978.5 2572.7H983.9M1524.5 2572.7H1519.1M978.5 2551.9H981.3M1524.5 2551.9H1521.7M978.5 2531.1H981.3M1524.5 2531.1H1521.7M978.5 2510.4H981.3M1524.5 2510.4H1521.7M978.5 2489.7H981.3M1524.5 2489.7H1521.7M978.5 2469.1H983.9M1524.5 2469.1H1519.1M978.5 2448.6H981.3M1524.5 2448.6H1521.7M978.5 2428.1H981.3M1524.5 2428.1H1521.7M993.6 2760.5V2754.5M993.6 2421.5V2427.5M1130.1 2760.5V2754.5M1130.1 2421.5V2427.5M1266.3 2760.5V2754.5M1266.3 2421.5V2427.5M1402.7 2760.5V2754.5M1402.7 2421.5V2427.5"/></g>
<g fill="#262626" stroke="#262626" stroke-width="0.4" font-family="'Liberation Sans', Arial, Helvetica, sans-serif" font-size="49.8">
<text x="965.8" y="2486.4" text-anchor="end">6.3</text>
<text x="965.8" y="2590.0" text-anchor="end">6.2</text>
<text x="965.8" y="2695.3" text-anchor="end">6.1</text>
<text x="992.6" y="2819.6" text-anchor="middle">6.5</text>
<text x="1129.1" y="2819.6" text-anchor="middle">7</text>
<text x="1265.3" y="2819.6" text-anchor="middle">7.5</text>
<text x="1401.7" y="2819.6" text-anchor="middle">8</text>
</g>
<text transform="translate(826.8 1497.8) scale(0.905 1)" font-family="'Liberation Serif', 'Times New Roman', serif" font-size="77" fill="#000">(</text>
<text transform="translate(850.6 1497.8) scale(0.920 1)" font-family="'Liberation Serif', 'Times New Roman', serif" font-size="77" fill="#000" font-weight="bold">a</text>
<text transform="translate(886.9 1497.8) scale(0.885 1)" font-family="'Liberation Serif', 'Times New Roman', serif" font-size="77" fill="#000">)</text>
<text transform="translate(822.0 3110.8) scale(0.885 1)" font-family="'Liberation Serif', 'Times New Roman', serif" font-size="77" fill="#000">(</text>
<text transform="translate(845.1 3110.8) scale(1.000 1)" font-family="'Liberation Serif', 'Times New Roman', serif" font-size="77" fill="#000" font-weight="bold">b</text>
<text transform="translate(890.9 3110.8) scale(0.905 1)" font-family="'Liberation Serif', 'Times New Roman', serif" font-size="77" fill="#000">)</text>
</svg></body></html>
